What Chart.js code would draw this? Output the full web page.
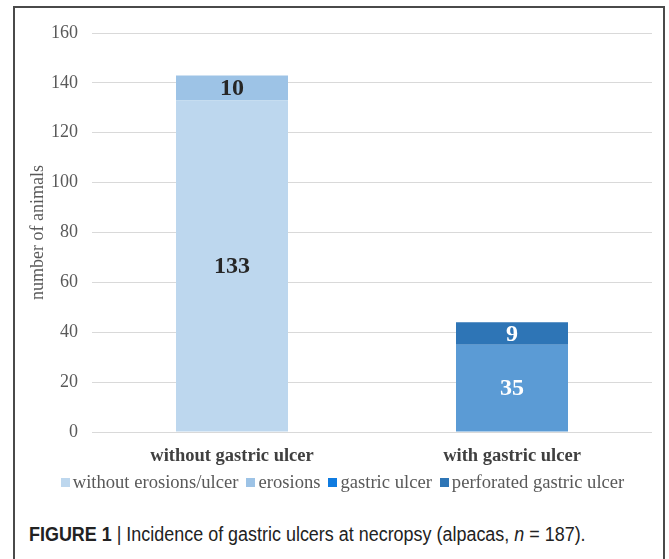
<!DOCTYPE html>
<html>
<head>
<meta charset="utf-8">
<script src="https://cdn.jsdelivr.net/npm/chart.js@4.4.1/dist/chart.umd.min.js"></script>
<style>
  html, body { margin: 0; padding: 0; background: #fff; width: 669px; height: 559px; overflow: hidden; }
  #frame { position: absolute; left: 13px; top: 6px; width: 648px; height: 600px;
           border: 2px solid #4a4a4a; border-bottom: none; }
  #wrap { position: absolute; left: 0; top: 0; width: 669px; height: 472px; }
  #legend { position: absolute; left: 8px; top: 471px; width: 669px; text-align: center;
            font-family: "Liberation Serif", "Times New Roman", serif; font-size: 18.6px; color: #595959;
            white-space: nowrap; }
  #legend span.item { display: inline-block; margin: 0 4px; }
  #legend span.box { display: inline-block; width: 9px; height: 9px; margin-right: 3px; vertical-align: 1px; }
  #caption { position: absolute; left: 29px; top: 523px; font-family: "Liberation Sans", Arial, sans-serif;
             font-size: 19.5px; color: #222; white-space: nowrap; transform: scaleX(0.92); transform-origin: 0 0; }
</style>
</head>
<body>
<div id="frame"></div>
<div id="wrap"><canvas id="c" width="669" height="472"></canvas></div>
<div id="legend"></div>
<div id="caption"><b>FIGURE 1</b> | Incidence of gastric ulcers at necropsy (alpacas, <i>n</i> = 187).</div>
<script>
const categories = ["without gastric ulcer", "with gastric ulcer"];
const seriesNames = ["without erosions/ulcer", "erosions", "gastric ulcer", "perforated gastric ulcer"];
const withoutErosionsUlcer = [133, 0];
const erosions = [10, 0];
const gastricUlcer = [0, 35];
const perforatedGastricUlcer = [0, 9];
const yTicks = [0, 20, 40, 60, 80, 100, 120, 140, 160];

const barColors = ["#BDD7EE", "#9DC3E6", "#5B9BD5", "#2E75B6"];
const legendColors = ["#BDD7EE", "#9DC3E6", "#0F7BE0", "#2E75B6"];
const labelColors = ["#262626", "#262626", "#ffffff", "#ffffff"];
const serif = '"Liberation Serif", "Times New Roman", serif';

const seriesValues = [withoutErosionsUlcer, erosions, gastricUlcer, perforatedGastricUlcer];

const valueLabels = {
  id: 'valueLabels',
  afterDatasetsDraw(chart) {
    const ctx = chart.ctx;
    ctx.save();
    ctx.font = 'bold 24px ' + serif;
    ctx.textAlign = 'center';
    ctx.textBaseline = 'middle';
    chart.data.datasets.forEach((ds, di) => {
      const meta = chart.getDatasetMeta(di);
      meta.data.forEach((el, i) => {
        const v = ds.data[i];
        if (!v) return;
        ctx.fillStyle = labelColors[di];
        ctx.fillText(String(v), el.x, (el.y + el.base) / 2 + 1);
      });
    });
    ctx.restore();
  }
};

new Chart(document.getElementById('c'), {
  type: 'bar',
  data: {
    labels: categories,
    datasets: seriesNames.map((name, i) => ({
      label: name,
      data: seriesValues[i],
      backgroundColor: barColors[i],
      borderWidth: 0,
      barPercentage: 0.4,
      categoryPercentage: 1.0
    }))
  },
  options: {
    responsive: false,
    animation: false,
    layout: { padding: { left: 23, right: 17, top: 33, bottom: 0 } },
    plugins: { legend: { display: false }, tooltip: { enabled: false } },
    scales: {
      x: {
        stacked: true,
        grid: { display: false },
        border: { display: false },
        ticks: { color: '#404040', font: { family: serif, size: 18.5, weight: 'bold' }, padding: 5 },
        afterFit(scale) { scale.height = 40; }
      },
      y: {
        stacked: true,
        min: 0, max: 160,
        afterBuildTicks(scale) { scale.ticks = yTicks.map(v => ({ value: v })); },
        grid: { color: '#d9d9d9', lineWidth: 1, drawTicks: false },
        border: { display: false },
        ticks: { color: '#595959', font: { family: serif, size: 18 }, padding: 14 },
        title: { display: true, text: 'number of animals', color: '#595959', font: { family: serif, size: 18 }, padding: { top: 4, bottom: 4 } },
        afterFit(scale) { scale.width = 69; }
      }
    }
  },
  plugins: [valueLabels]
});

const legendEl = document.getElementById('legend');
seriesNames.forEach((name, i) => {
  const item = document.createElement('span');
  item.className = 'item';
  const box = document.createElement('span');
  box.className = 'box';
  box.style.background = legendColors[i];
  item.appendChild(box);
  item.appendChild(document.createTextNode(name));
  legendEl.appendChild(item);
});
</script>
</body>
</html>
